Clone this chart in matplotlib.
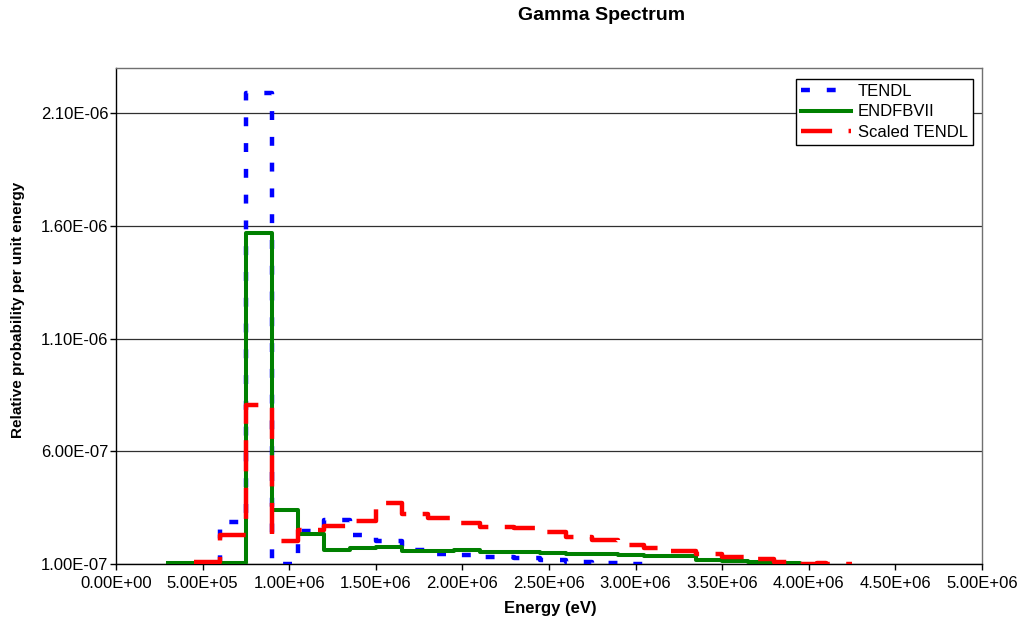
import numpy as np
import matplotlib.pyplot as plt

plt.rcParams['font.family'] = ['Liberation Sans', 'DejaVu Sans']

# bin edges (eV) and probability per unit energy for each library
tendl_edges = [4.5e5, 6.0e5, 7.5e5, 9.0e5, 1.05e6, 1.2e6, 1.35e6, 1.5e6, 1.65e6,
               1.8e6, 1.95e6, 2.1e6, 2.3e6, 2.45e6, 2.6e6, 2.75e6, 2.9e6, 3.05e6]
tendl_vals = [1.0e-7, 2.88e-7, 2.19e-6, 1.02e-7, 2.45e-7, 2.95e-7, 2.29e-7, 2.02e-7,
              1.62e-7, 1.44e-7, 1.39e-7, 1.30e-7, 1.25e-7, 1.16e-7, 1.09e-7, 1.04e-7, 1.0e-7]

endf_edges = [3.0e5, 7.5e5, 9.0e5, 1.05e6, 1.2e6, 1.35e6, 1.5e6, 1.65e6, 1.8e6,
              1.95e6, 2.1e6, 2.3e6, 2.45e6, 2.6e6, 2.75e6, 2.9e6, 3.05e6, 3.2e6,
              3.35e6, 3.5e6, 3.65e6, 3.8e6, 3.95e6, 4.05e6]
endf_vals = [1.03e-7, 1.57e-6, 3.40e-7, 2.35e-7, 1.62e-7, 1.72e-7, 1.75e-7, 1.56e-7,
             1.57e-7, 1.60e-7, 1.55e-7, 1.52e-7, 1.49e-7, 1.46e-7, 1.43e-7, 1.40e-7,
             1.37e-7, 1.34e-7, 1.18e-7, 1.12e-7, 1.08e-7, 1.05e-7, 1.0e-7]

scaled_edges = [4.5e5, 6.0e5, 7.5e5, 9.0e5, 1.05e6, 1.2e6, 1.35e6, 1.5e6, 1.65e6,
                1.8e6, 1.95e6, 2.1e6, 2.3e6, 2.45e6, 2.6e6, 2.75e6, 2.9e6, 3.05e6,
                3.2e6, 3.35e6, 3.5e6, 3.65e6, 3.8e6, 3.95e6, 4.05e6, 4.1e6, 4.25e6]
scaled_vals = [1.10e-7, 2.29e-7, 8.05e-7, 2.02e-7, 2.50e-7, 2.68e-7, 2.92e-7, 3.69e-7,
               3.20e-7, 3.04e-7, 2.82e-7, 2.63e-7, 2.58e-7, 2.40e-7, 2.18e-7, 2.05e-7,
               1.83e-7, 1.70e-7, 1.56e-7, 1.44e-7, 1.30e-7, 1.20e-7, 1.07e-7, 1.0e-7,
               1.04e-7, 1.0e-7]

x_ticks = np.arange(0, 5.0e6 + 1, 5.0e5)
y_ticks = [1.0e-7, 6.0e-7, 1.1e-6, 1.6e-6, 2.1e-6]


def steps(edges, vals):
    return np.array(edges), np.append(vals, vals[-1])


fig = plt.figure(figsize=(10.21, 6.20), dpi=100)
ax = fig.add_axes([116 / 1021, 1 - 564 / 620, 866 / 1021, 496 / 620])

for y in y_ticks:
    ax.axhline(y, color='#303030', lw=0.9, zorder=1)

x, y = steps(tendl_edges, tendl_vals)
ax.plot(x, y, drawstyle='steps-post', color='#0000FF', lw=3.2,
        linestyle=(0, (2.0, 3.8)), label='TENDL', zorder=3)
x, y = steps(endf_edges, endf_vals)
ax.plot(x, y, drawstyle='steps-post', color='#008000', lw=2.9,
        label='ENDFBVII', zorder=4)
x, y = steps(scaled_edges, scaled_vals)
ax.plot(x, y, drawstyle='steps-post', color='#FF0000', lw=3.2,
        linestyle=(0, (7.0, 3.7)), label='Scaled TENDL', zorder=5)

ax.set_xlim(0, 5.0e6)
ax.set_ylim(1.0e-7, 2.3e-6)
ax.set_xticks(x_ticks)
ax.set_xticklabels(['%.2E' % v for v in x_ticks], fontsize=12)
ax.set_yticks(y_ticks)
ax.set_yticklabels(['%.2E' % v for v in y_ticks], fontsize=12)
ax.tick_params(axis='x', direction='out', length=4, width=1, pad=5)
ax.tick_params(axis='y', direction='out', length=4, width=1, pad=1.5)

for side in ['left', 'bottom']:
    ax.spines[side].set_color('black')
    ax.spines[side].set_linewidth(1.0)
for side in ['top', 'right']:
    ax.spines[side].set_color('#707070')
    ax.spines[side].set_linewidth(1.0)

leg = ax.legend(loc='upper right', bbox_to_anchor=(0.9896, 0.9778), borderaxespad=0,
                fontsize=12, fancybox=False, framealpha=1, edgecolor='black',
                handlelength=3.0, handletextpad=0.4, labelspacing=0.32, borderpad=0.3)
leg.get_frame().set_linewidth(1.0)
leg.set_zorder(10)

fig.text(602 / 1021, 1 - 15 / 620, 'Gamma Spectrum', ha='center', va='center',
         fontsize=14, fontweight='bold')
fig.text(550 / 1021, 1 - 608 / 620, 'Energy (eV)', ha='center', va='center',
         fontsize=12, fontweight='bold')
fig.text(18 / 1021, 1 - 310 / 620, 'Relative probability per unit energy',
         ha='center', va='center', rotation=90, fontsize=11, fontweight='bold')

fig.savefig('out.png', dpi=100)
